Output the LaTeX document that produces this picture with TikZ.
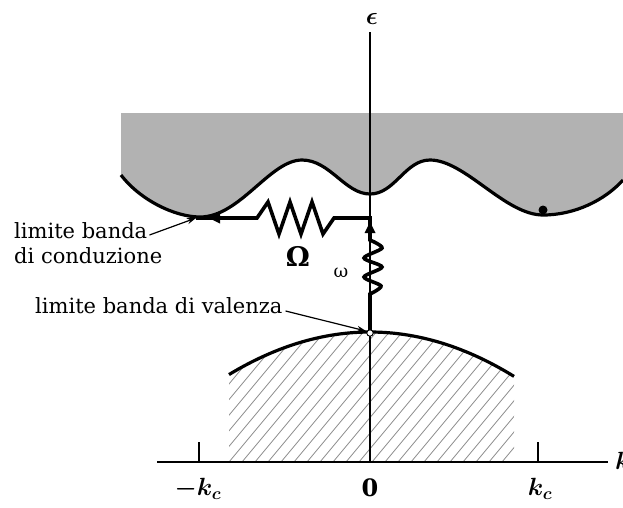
\documentclass[tikz,border=0pt]{standalone}
\usepackage{amsmath}
\usepackage{fontspec}
\setmainfont{DejaVu Serif}
\usetikzlibrary{arrows.meta}
\begin{document}
\begin{tikzpicture}[x=1pt,y=-1pt,
  lbl/.style={font=\fontsize{21}{24}\selectfont, inner sep=0pt},
  mlbl/.style={font=\fontsize{24}{26}\selectfont, inner sep=0pt},
  thickline/.style={line width=3.6pt, line join=miter},
  band/.style={line width=3.2pt},
  axisline/.style={line width=1.6pt},
  pointer/.style={line width=1.2pt,-{Stealth[length=9pt,width=6pt]}},
  bigtip/.style={-{Triangle[length=11pt,width=11pt,line width=0pt]}},
  hatch/.style={black!45, line width=0.8pt}]
\useasboundingbox (0,0) rectangle (623,507);
% conduction band
\def\cbpath{(121,175) .. controls (140,200) and (175,217) .. (200,217)
  .. controls (240,217) and (270,160) .. (302,160)
  .. controls (330,160) and (345,194) .. (370,194)
  .. controls (395,194) and (405,160) .. (430,160)
  .. controls (465,160) and (505,215) .. (543,215)
  .. controls (575,215) and (605,200) .. (623,180)}
\fill[black!30] (121,113) -- \cbpath -- (623,113) -- cycle;
\draw[band] \cbpath;
% valence band hatching
\begin{scope}
\clip (229,375) -- plot[domain=229:514,samples=60] (\x,{332+0.214*((\x-370)/10)^2}) -- (514,462) -- (229,462) -- cycle;
\foreach \i in {0,...,36} \draw[hatch] ({99+\i*13},462) -- ++(125,-150);
\end{scope}
\draw[band] plot[domain=229:514,samples=60] (\x,{332+0.214*((\x-370)/10)^2});
% axes
\draw[axisline] (157,462) -- (608,462);
\draw[axisline] (370,32) -- (370,462);
\draw[axisline] (199,442) -- (199,462);
\draw[axisline] (538,442) -- (538,462);
\node[mlbl] (eps) at (372,19) {$\boldsymbol{\epsilon}$};
\node[mlbl] (mkc) at (198,489) {$\boldsymbol{-k_c}$};
\node[mlbl] (zero) at (370,488) {$\mathbf{0}$};
\node[mlbl] (kc) at (540,489) {$\boldsymbol{k_c}$};
\node[mlbl, anchor=west] (kax) at (615,461) {$\boldsymbol{k}$};
% coordinates
\coordinate (vb) at (370,333);
\coordinate (corner) at (370,218);
\coordinate (cbedge) at (196,218);
% omega path (vertical) and Omega path (horizontal)
\draw[thickline] (370,331) -- (370,294) -- plot[smooth,tension=0.5] coordinates {(370,294) (381,286) (364,277) (382,267) (364,258) (382,248) (370,240)} -- (370,236);
\draw[thickline] (370,236) -- (corner) -- (334,218) -- (323,234) -- (312,202) -- (301,234) -- (290,202) -- (279,234) -- (268,202) -- (257,218) -- (cbedge);
\draw[thickline,bigtip] (370,240) -- (370,222);
\draw[thickline,bigtip] (240,218) -- (209,218);
\fill (543,210) circle (4.5);
\draw[line width=0.9pt, fill=white] (vb) circle (3.2);
% labels
\node[font=\fontsize{27}{28}\bfseries\selectfont, inner sep=0pt] (Om) at (298,256) {Ω};
\node[font=\fontsize{18}{18}\selectfont, inner sep=0pt] (om) at (341,273) {ω};
\node[lbl, anchor=base west] (lcb1) at (14,238) {limite banda};
\node[lbl, anchor=base west] (lcb2) at (14,263) {di conduzione};
\node[lbl, anchor=base west] (lvb) at (35,313) {limite banda di valenza};
\draw[pointer] ([shift={(2pt,3pt)}]lcb1.base east) -- (cbedge);
\draw[pointer] ([shift={(3pt,2pt)}]lvb.base east) -- (366,331);
\end{tikzpicture}
\end{document}
